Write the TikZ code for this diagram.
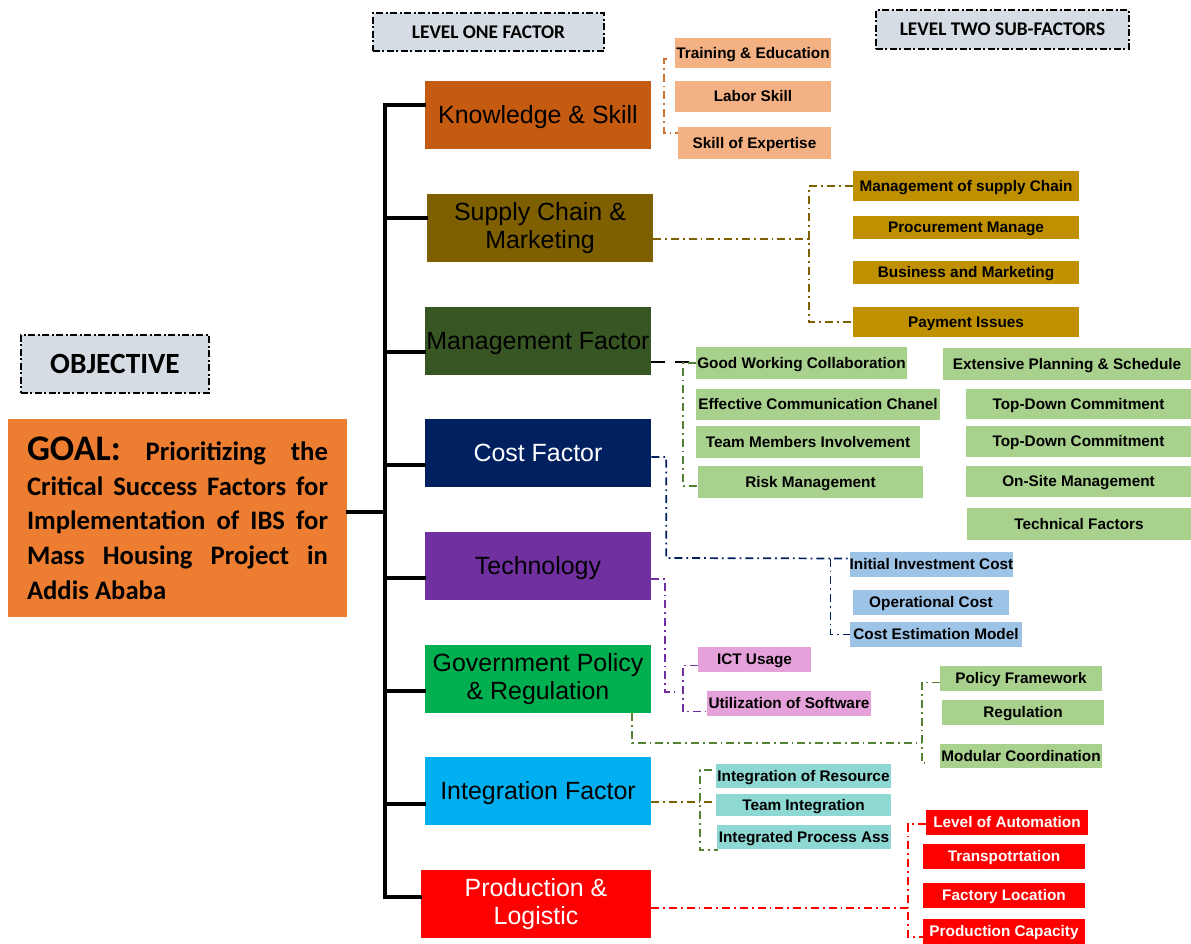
\documentclass[tikz,border=0pt]{standalone}
\usepackage{fontspec}
\setmainfont{Liberation Sans}
\newfontfamily\calibri{Carlito}
\usepackage{tikz}

\definecolor{ksdark}{HTML}{C55A11}
\definecolor{kslight}{HTML}{F4B183}
\definecolor{scmdark}{HTML}{7F6000}
\definecolor{scmlight}{HTML}{BF9000}
\definecolor{mgdark}{HTML}{375623}
\definecolor{mglight}{HTML}{A9D18E}
\definecolor{mgline}{HTML}{548235}
\definecolor{costdark}{HTML}{002060}
\definecolor{costlight}{HTML}{9DC3E6}
\definecolor{techdark}{HTML}{7030A0}
\definecolor{techlight}{HTML}{E4A1DA}
\definecolor{govdark}{HTML}{00B050}
\definecolor{intdark}{HTML}{00B0F0}
\definecolor{intlight}{HTML}{8DD8D2}
\definecolor{pldark}{HTML}{FF0000}
\definecolor{goalbg}{HTML}{ED7D31}
\definecolor{headbg}{HTML}{D6DCE4}

\newcommand{\px}{0.75pt}
\hyphenpenalty=10000

\begin{document}
\begin{tikzpicture}[x=\px, y=-\px,
  boxsize/.style 2 args={minimum width=#1*\px, minimum height=#2*\px},
  header/.style={draw, line width=1.2pt, dash pattern=on 5pt off 2pt on 1.5pt off 2pt,
    fill=headbg, inner sep=0, font=\calibri\bfseries\fontsize{14.5}{17}\selectfont},
  factor/.style={boxsize={226}{68}, inner sep=0, align=center,
    font=\fontsize{18.7}{20.5}\selectfont},
  oneline/.style={text height=13.4pt, text depth=0pt},
  sub/.style={inner sep=0, text height=8.2pt, text depth=0pt,
    font=\bfseries\fontsize{11.5}{13}\selectfont},
  tree/.style={line width=2.4pt, line cap=rect},
  link/.style={line width=1.3pt, dash pattern=on 6pt off 3pt on 1.3pt off 3pt}]

\fill[white] (0,0) rectangle (1191,944);
\useasboundingbox (0,0) rectangle (1191,944);

% headings
\node[header, boxsize={231}{38}] (lvlone) at (488.5,32) {LEVEL ONE FACTOR};
\node[header, boxsize={253}{39}] (lvltwo) at (1002.5,29.5) {LEVEL TWO SUB-FACTORS};
\node[header, boxsize={188}{58}, font=\calibri\bfseries\fontsize{22}{26}\selectfont] (objective) at (115,364) {OBJECTIVE};

% goal
\node[fill=goalbg, boxsize={339}{198}, inner sep=0, text width=225.75pt, align=justify,
  font=\calibri\bfseries\fontsize{20}{26}\selectfont] (goal) at (177.5,518)
  {{\fontsize{27}{26}\selectfont GOAL:} Prioritizing the\linebreak Critical Success Factors for\linebreak Implementation of IBS for\linebreak Mass Housing Project in\linebreak Addis Ababa};

% level one factors
\node[factor, oneline, fill=ksdark] (know) at (538,115) {Knowledge \& Skill};
\node[factor, fill=scmdark] (supply) at (540,228) {Supply Chain \&\\Marketing};
\node[factor, oneline, fill=mgdark] (mgmt) at (538,341) {Management Factor};
\node[factor, oneline, fill=costdark, text=white] (cost) at (538,453) {Cost Factor};
\node[factor, oneline, fill=techdark] (tech) at (538,566) {Technology};
\node[factor, fill=govdark] (gov) at (538,679) {Government Policy\\\& Regulation};
\node[factor, oneline, fill=intdark] (integ) at (538,791) {Integration Factor};
\node[factor, fill=pldark, text=white, boxsize={230}{68}] (prod) at (536,904) {Production \&\\Logistic};

% tree from goal to factors
\coordinate (trunk) at (385,0);
\foreach \f/\dy in {know/-10, supply/-10, mgmt/11, cost/12, tech/12, gov/12, integ/13, prod/-7}
  \draw[tree] ([shift={(0,\dy)}]\f.west) coordinate (\f-in) -- (trunk |- \f-in);
\draw[tree] (trunk |- know-in) -- (trunk |- prod-in);
\draw[tree] ([shift={(0,-6)}]goal.east) coordinate (goal-out) -- (trunk |- goal-out);

% knowledge & skill
\node[sub, fill=kslight, boxsize={156}{30}] (train) at (753,53) {Training \& Education};
\node[sub, fill=kslight, boxsize={156}{31}] (labor) at (753,96.5) {Labor Skill};
\node[sub, fill=kslight, boxsize={153}{32}] (expert) at (754.5,143) {Skill of Expertise};
\draw[link, ksdark!85] ([shift={(-8,6)}]train.west) -| ([shift={(-14,-10)}]expert.west) -- ([shift={(0,-10)}]expert.west);

% supply chain & marketing
\node[sub, fill=scmlight, boxsize={226}{30}] (msc) at (966,186) {Management of supply Chain};
\node[sub, fill=scmlight, boxsize={226}{23}] (procure) at (966,227.5) {Procurement Manage};
\node[sub, fill=scmlight, boxsize={226}{23}] (busmkt) at (966,272.5) {Business and Marketing};
\node[sub, fill=scmlight, boxsize={226}{30}] (payment) at (966,322) {Payment Issues};
\draw[link, scmdark] ([shift={(0,11)}]supply.east) -- ++(156,0) coordinate (scm-bus);
\draw[link, scmdark] (msc.west) -| (scm-bus) |- (payment.west);

% management factor
\node[sub, fill=mglight, boxsize={211}{32}] (collab) at (801.5,363) {Good Working Collaboration};
\node[sub, fill=mglight, boxsize={244}{31}] (comm) at (818,404.5) {Effective Communication Chanel};
\node[sub, fill=mglight, boxsize={224}{32}] (team) at (808,442) {Team Members Involvement};
\node[sub, fill=mglight, boxsize={225}{32}] (risk) at (810.5,482) {Risk Management};
\node[sub, fill=mglight, boxsize={248}{32}] (plan) at (1067,364) {Extensive Planning \& Schedule};
\node[sub, fill=mglight, boxsize={225}{30}] (topone) at (1078.5,404) {Top-Down Commitment};
\node[sub, fill=mglight, boxsize={225}{31}] (toptwo) at (1078.5,441.5) {Top-Down Commitment};
\node[sub, fill=mglight, boxsize={225}{31}] (onsite) at (1078.5,481.5) {On-Site Management};
\node[sub, fill=mglight, boxsize={224}{32}] (techfac) at (1079,524) {Technical Factors};
\draw[line width=2.2pt, dash pattern=on 10pt off 8pt] ([shift={(0,21)}]mgmt.east) -- ++(41,0);
\draw[link, mgline] (collab.west) -| ([shift={(-15,4)}]risk.west) -- ([shift={(0,4)}]risk.west);

% cost factor
\node[sub, fill=costlight, boxsize={163}{25}] (initial) at (931.5,564.5) {Initial Investment Cost};
\node[sub, fill=costlight, boxsize={156}{25}] (opcost) at (931,602.5) {Operational Cost};
\node[sub, fill=costlight, boxsize={172}{25}] (estim) at (936,634.5) {Cost Estimation Model};
\draw[link, costdark] ([shift={(0,4)}]cost.east) -| ++(15,101) -- ([shift={(0,-6)}]initial.west);
\draw[link, costdark] ([shift={(-19,-6)}]initial.west) |- (estim.west);

% technology
\node[sub, fill=techlight, boxsize={113}{25}] (ict) at (754.5,659.5) {ICT Usage};
\node[sub, fill=techlight, boxsize={164}{25}] (software) at (789,703.5) {Utilization of Software};
\draw[link, techdark] ([shift={(0,13)}]tech.east) -| ++(14,113) -- ++(10,0);
\draw[link, techdark] ([shift={(0,6)}]ict.west) -| ([shift={(-24,8)}]software.west) -- ([shift={(0,8)}]software.west);

% government policy & regulation
\node[sub, fill=mglight, boxsize={162}{25}] (polfw) at (1021,678.5) {Policy Framework};
\node[sub, fill=mglight, boxsize={162}{25}] (regul) at (1023,712.5) {Regulation};
\node[sub, fill=mglight, boxsize={162}{24}] (modular) at (1021,756) {Modular Coordination};
\draw[link, mgline] ([shift={(-19,0)}]gov.south east) |- ++(290,30);
\draw[link, mgline] ([shift={(0,4)}]polfw.west) -| ([shift={(-18,7)}]modular.west) -- ++(3,0);

% integration factor
\node[sub, fill=intlight, boxsize={175}{24}] (intres) at (803.5,776) {Integration of Resource};
\node[sub, fill=intlight, boxsize={175}{22}] (teamint) at (803.5,805) {Team Integration};
\node[sub, fill=intlight, boxsize={174}{24}] (intproc) at (804,837) {Integrated Process Ass};
\draw[link, scmdark] ([shift={(0,11)}]integ.east) -- ([shift={(-4,-3)}]teamint.west);
\draw[link, mgline] ([shift={(-4,-6)}]intres.west) -| ([shift={(-17,13)}]intproc.west) -- ([shift={(1,13)}]intproc.west);

% production & logistic
\node[sub, fill=pldark, text=white, boxsize={162}{25}] (automation) at (1007,822.5) {Level of Automation};
\node[sub, fill=pldark, text=white, boxsize={162}{25}] (transport) at (1004,856.5) {Transpotrtation};
\node[sub, fill=pldark, text=white, boxsize={162}{25}] (factloc) at (1004,895.5) {Factory Location};
\node[sub, fill=pldark, text=white, boxsize={162}{25}] (prodcap) at (1004,931.5) {Production Capacity};
\draw[link, pldark] ([shift={(0,4)}]prod.east) -- ++(257,0);
\draw[link, pldark] ([shift={(0,1.5)}]automation.west) -| ([shift={(-15,5.5)}]prodcap.west) -- ([shift={(0,5.5)}]prodcap.west);
\end{tikzpicture}
\end{document}
